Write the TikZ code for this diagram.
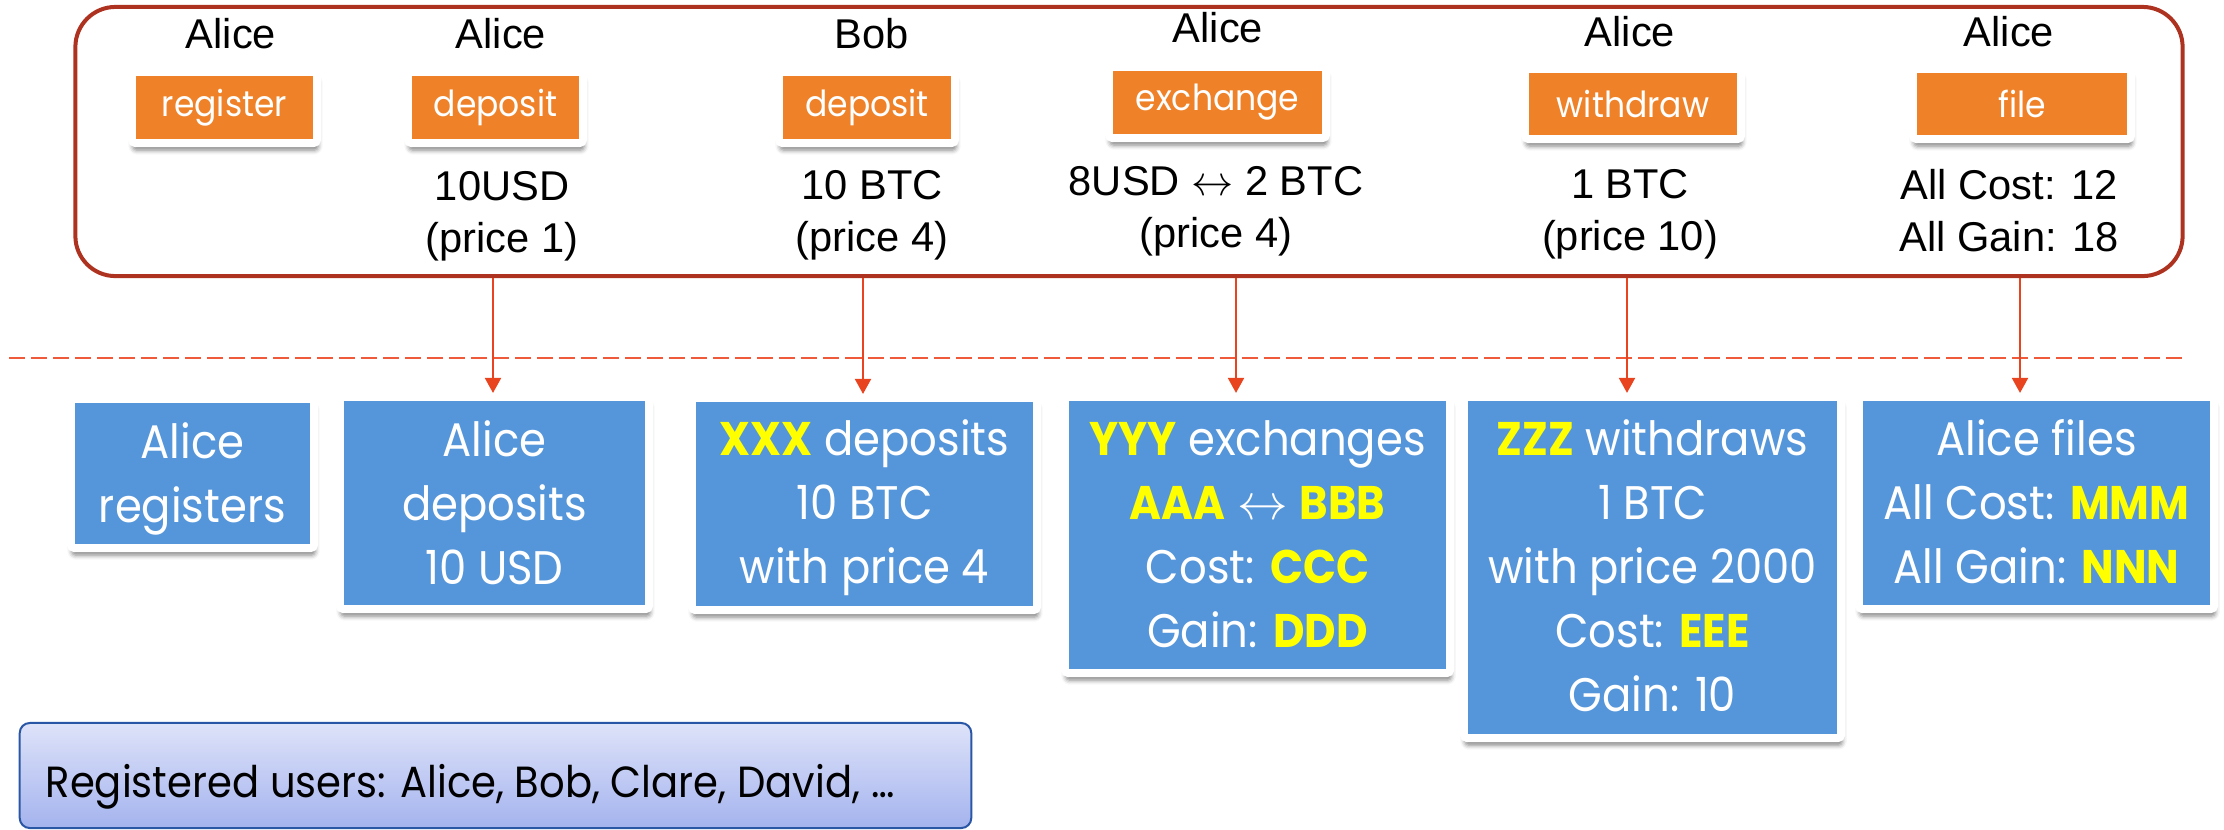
\documentclass[tikz,border=0pt]{standalone}
\usepackage{fontspec}
\setmainfont{Liberation Sans}
\newfontfamily\gfont[FakeStretch=0.92]{Poppins}
\usetikzlibrary{arrows.meta,shadows.blur}

\definecolor{panelred}{HTML}{AD3220}
\definecolor{btnorange}{HTML}{EF8229}
\definecolor{cardblue}{HTML}{5596DA}
\definecolor{hly}{HTML}{FFFF00}
\definecolor{arrowred}{HTML}{E8441F}
\definecolor{seprred}{HTML}{EE5A3A}
\definecolor{regtop}{HTML}{DEE3F9}
\definecolor{regbot}{HTML}{A4B3EE}
\definecolor{regborder}{HTML}{2A57A5}

\newcommand\hlt[1]{{\bfseries\color{hly}#1}}

\tikzset{
  panel/.style={draw=panelred, line width=0.04cm, rounded corners=0.4cm, inner sep=0pt},
  lab/.style={font=\fontsize{11.84}{14.8}\selectfont, inner sep=0pt, align=center},
  softshadow/.style={blur shadow={shadow xshift=0.3pt, shadow yshift=-2pt,
      shadow blur radius=1.3pt, shadow opacity=50}},
  btn/.style={fill=btnorange, draw=white, line width=0.08cm, rounded corners=1pt,
      inner sep=0pt, font=\gfont\fontsize{10.2}{12}\selectfont, text=white, softshadow},
  card/.style={fill=cardblue, draw=white, line width=0.08cm, rounded corners=1pt,
      inner sep=0pt, softshadow},
  cardtext/.style={font=\gfont\fontsize{13.4}{18.2}\selectfont, text=white,
      align=center, inner sep=0pt},
  arr/.style={draw=arrowred, line width=0.02cm,
      -{Triangle[width=0.16cm,length=0.15cm]}},
  sepline/.style={draw=seprred, line width=0.02cm, dash pattern=on 0.16cm off 0.06cm},
  regbox/.style={draw=regborder, line width=0.02cm, rounded corners=0.1cm,
      top color=regtop, bottom color=regbot, inner sep=0pt},
  regtext/.style={font=\gfont\fontsize{12.4}{14}\selectfont, inner sep=0pt}
}

\begin{document}
\begin{tikzpicture}[x=0.01cm, y=-0.01cm]
\useasboundingbox (0,0) rectangle (2224,829);

% upper panel with the operations
\node[panel, minimum width=21.06cm, minimum height=2.69cm] (panel) at (1129,141.5) {};

% user names
\node[lab, anchor=base] (uReg)  at (231,48)  {Alice};
\node[lab, anchor=base] (uDepA) at (501,48)  {Alice};
\node[lab, anchor=base] (uDepB) at (872,48)  {Bob};
\node[lab, anchor=base] (uExch) at (1218,42) {Alice};
\node[lab, anchor=base] (uWith) at (1630,46) {Alice};
\node[lab, anchor=base] (uFile) at (2009,46) {Alice};

% operation buttons
\node[btn, minimum width=1.85cm, minimum height=0.71cm] (bReg)  at (224.5,107.5) {register};
\node[btn, minimum width=1.75cm, minimum height=0.71cm] (bDepA) at (495.5,107.5) {deposit};
\node[btn, minimum width=1.76cm, minimum height=0.71cm] (bDepB) at (867,107.5)   {deposit};
\node[btn, minimum width=2.17cm, minimum height=0.71cm] (bExch) at (1217.5,102.5) {exchange};
\node[btn, minimum width=2.16cm, minimum height=0.70cm] (bWith) at (1633,104)    {withdraw};
\node[btn, minimum width=2.18cm, minimum height=0.70cm] (bFile) at (2022,104)    {file};

% operation arguments
\node[lab] (aDepA) at (502,215.6)  {\strut 10USD\\\strut (price 1)};
\node[lab] (aDepB) at (872,215.1)  {\strut 10 BTC\\\strut (price 4)};
\node[lab] (aExch) at (1216,210.6) {\strut 8USD $\leftrightarrow$ 2 BTC\\\strut (price 4)};
\node[lab] (aWith) at (1630,214.1) {\strut 1 BTC\\\strut (price 10)};
\node[lab] (aFile) at (2009,214.6) {\strut All Cost: 12\\\strut All Gain: 18};

% separator
\coordinate (sepL) at (9,358);
\coordinate (sepR) at (2182,358);
\draw[sepline] (sepL) -- (sepR);

% resulting records
\node[card, minimum width=2.43cm, minimum height=1.49cm] (cReg)  at (192.5,473.5) {};
\node[card, minimum width=3.09cm, minimum height=2.12cm] (cDepA) at (494.5,503)   {};
\node[card, minimum width=3.45cm, minimum height=2.12cm] (cDepB) at (864.5,504)   {};
\node[card, minimum width=3.85cm, minimum height=2.76cm] (cExch) at (1257.5,535)  {};
\node[card, minimum width=3.77cm, minimum height=3.41cm] (cWith) at (1652.5,567.5) {};
\node[card, minimum width=3.55cm, minimum height=2.12cm] (cFile) at (2036.5,503)  {};

\node[cardtext] (tReg)  at (192.5,477.2)  {\strut Alice\\\strut registers};
\node[cardtext] (tDepA) at (494.5,507.2)  {\strut Alice\\\strut deposits\\\strut 10 USD};
\node[cardtext] (tDepB) at (864.5,506.7)  {\strut\hlt{XXX} deposits\\\strut 10 BTC\\\strut with price 4};
\node[cardtext] (tExch) at (1257.5,538.2) {\strut\hlt{YYY} exchanges\\\strut\hlt{AAA} $\leftrightarrow$ \hlt{BBB}\\\strut Cost: \hlt{CCC}\\\strut Gain: \hlt{DDD}};
\node[cardtext] (tWith) at (1652.5,570.7) {\strut\hlt{ZZZ} withdraws\\\strut 1 BTC\\\strut with price 2000\\\strut Cost: \hlt{EEE}\\\strut Gain: 10};
\node[cardtext] (tFile) at (2036.5,506.7) {\strut Alice files\\\strut All Cost: \hlt{MMM}\\\strut All Gain: \hlt{NNN}};

% links from operations to records
\coordinate (xDepA) at (493,0);
\coordinate (xDepB) at (863,0);
\coordinate (xExch) at (1236,0);
\coordinate (xWith) at (1627,0);
\coordinate (xFile) at (2020,0);
\draw[arr] (panel.south -| xDepA) -- (cDepA.north -| xDepA);
\draw[arr] (panel.south -| xDepB) -- (cDepB.north -| xDepB);
\draw[arr] (panel.south -| xExch) -- (cExch.north -| xExch);
\draw[arr] (panel.south -| xWith) -- (cWith.north -| xWith);
\draw[arr] (panel.south -| xFile) -- (cFile.north -| xFile);

% registered users
\node[regbox, minimum width=9.51cm, minimum height=1.05cm] (reg) at (495.5,775.5) {};
\node[regtext, anchor=base west] (regT) at (45,797) {Registered users: Alice, Bob, Clare, David, …};
\end{tikzpicture}
\end{document}
